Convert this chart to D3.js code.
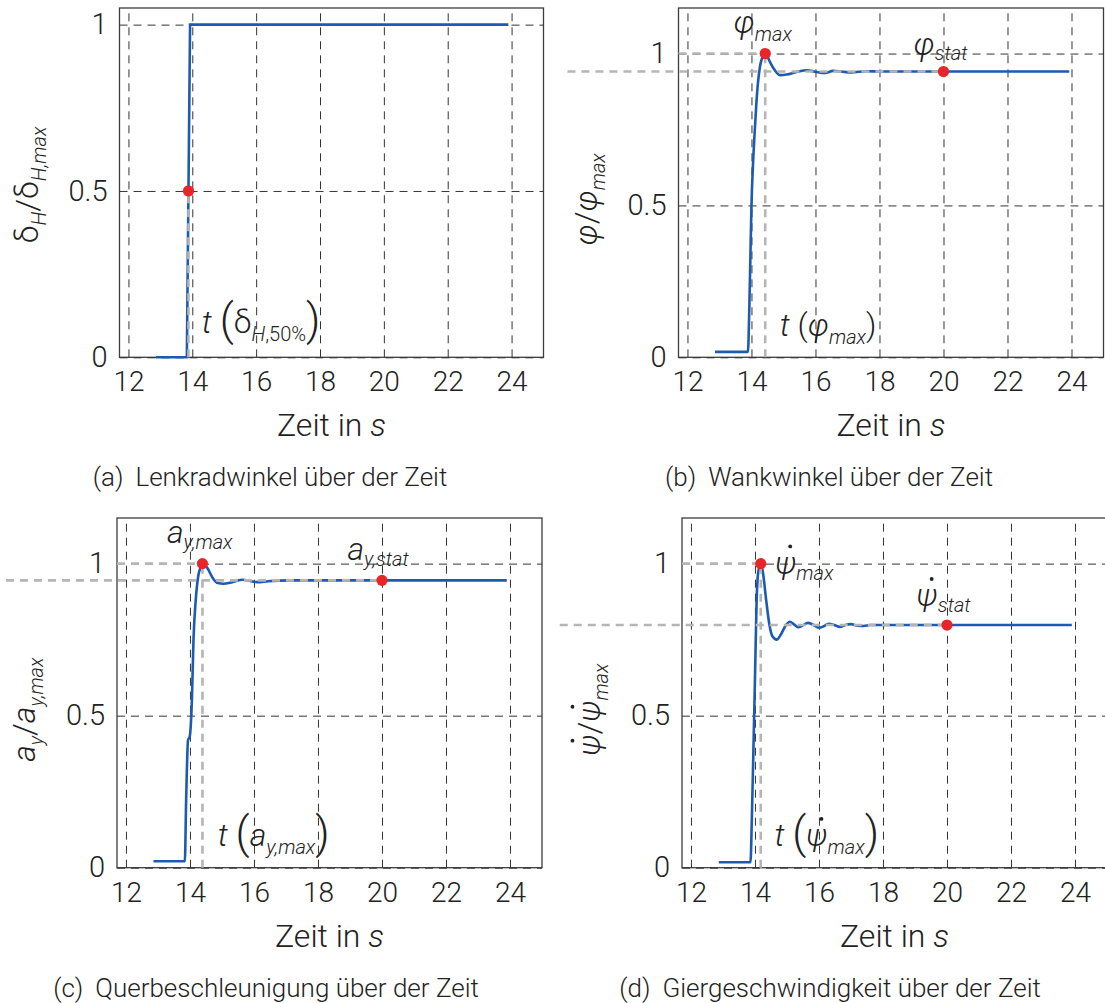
<!DOCTYPE html>
<html>
<head>
<meta charset="utf-8">
<script src="https://cdn.jsdelivr.net/npm/d3@7"></script>
<style>
  body { margin: 0; background: #fff; }
  svg text { font-family: Roboto, "Noto Sans", sans-serif; font-weight: 300; fill: #222; }
</style>
</head>
<body>
<svg id="chart" width="1105" height="1003"></svg>
<script>
// shared ticks
const xTicks = [12, 14, 16, 18, 20, 22, 24];
const yTicks = [0, 0.5, 1];
const yTickLabels = ['0', '0.5', '1'];

// (a) Lenkradwinkel
const timeA = [12.86, 13.83, 13.93, 23.9];
const valA = [0, 0, 1, 1];
const markA = [[13.88, 0.5]];

// (b) Wankwinkel
const timeB = [12.86, 13.89, 13.93, 13.97, 14.0, 14.05, 14.1, 14.15, 14.2, 14.27, 14.35, 14.43, 14.5, 14.58, 14.73, 14.9, 15.1, 15.4, 15.73, 16.0, 16.3, 16.55, 16.8, 17.1, 17.6, 18.0, 20.0, 23.93];
const valB = [0.018, 0.018, 0.15, 0.35, 0.5, 0.64, 0.74, 0.83, 0.9, 0.96, 0.99, 1.0, 0.99, 0.972, 0.945, 0.929, 0.931, 0.939, 0.945, 0.94, 0.936, 0.943, 0.941, 0.938, 0.942, 0.941, 0.941, 0.941];
const markB = [[14.43, 1.0], [20, 0.941]];

// (c) Querbeschleunigung
const timeC = [12.86, 13.84, 13.88, 13.94, 13.99, 14.06, 14.11, 14.18, 14.26, 14.34, 14.39, 14.54, 14.71, 14.87, 15.04, 15.32, 15.65, 15.88, 16.1, 16.44, 16.77, 17.2, 20.0, 23.9];
const valC = [0.021, 0.021, 0.22, 0.42, 0.43, 0.55, 0.75, 0.88, 0.96, 0.99, 1.0, 0.986, 0.953, 0.936, 0.934, 0.939, 0.947, 0.943, 0.939, 0.942, 0.944, 0.945, 0.945, 0.945];
const markC = [[14.39, 1.0], [20, 0.945]];

// (d) Giergeschwindigkeit
const timeD = [12.87, 13.86, 13.9, 13.95, 14.0, 14.05, 14.1, 14.18, 14.25, 14.35, 14.45, 14.55, 14.68, 14.8, 14.95, 15.09, 15.22, 15.35, 15.5, 15.65, 15.8, 16.0, 16.15, 16.3, 16.5, 16.65, 16.85, 17.0, 17.2, 17.4, 17.6, 18.0, 20.0, 23.9];
const valD = [0.018, 0.018, 0.15, 0.38, 0.62, 0.87, 0.97, 1.0, 0.97, 0.88, 0.8, 0.76, 0.75, 0.765, 0.795, 0.809, 0.8, 0.791, 0.797, 0.805, 0.8, 0.789, 0.794, 0.802, 0.797, 0.792, 0.799, 0.801, 0.796, 0.795, 0.798, 0.798, 0.798, 0.798];
const markD = [[14.18, 1.0], [20, 0.798]];

// where the grey steady-state line starts (left of the box)
const statStart = { b: 8.25, c: 8.25, d: 7.9 };

const svg = d3.select('#chart');
const blue = '#1c5bb3';
const red = '#e8262a';
const grey = '#b5b5b5';

// text made of several pieces (subscripts, italics, big parens, dotted psi)
function richText(g, x, y, parts, anchor) {
    const grp = g.append('g');
    const t = grp.append('text').attr('x', x).attr('y', y).attr('text-anchor', anchor || 'start');
    let off = 0, idx = 0;
    const dots = [];
    parts.forEach(p => {
        const o = p.off || 0;
        t.append('tspan')
            .attr('dy', o - off)
            .attr('font-size', p.size || 32)
            .attr('font-style', p.i ? 'italic' : 'normal')
            .attr('dx', p.dx || 0)
            .text(p.s);
        if (p.dot) dots.push({ idx: idx, off: o, size: p.size || 32 });
        idx += p.s.length;
        off = o;
    });
    // dot above psi (time derivative)
    dots.forEach(d => {
        const r = t.node().getExtentOfChar(d.idx);
        grp.append('circle')
            .attr('cx', r.x + r.width / 2 + d.size * 0.14)
            .attr('cy', y + d.off - d.size * 0.86)
            .attr('r', d.size * 0.06)
            .attr('fill', '#222');
    });
    return grp;
}

const panels = [
    { key: 'a', left: 119.5, top: 8, w: 424, h: 349.3, yMax: 1.05, time: timeA, val: valA, marks: markA,
      ylabel: [{ s: 'δ' }, { s: 'H', size: 20, i: 1, off: 8 }, { s: '/' }, { s: 'δ' }, { s: 'H,max', size: 20, i: 1, off: 8 }],
      tag: '(a)', caption: 'Lenkradwinkel über der Zeit', capX: 270,
      notes: [
        { t: 14.3, v: 0.073, parts: [{ s: 't', i: 1 }, { s: ' ' }, { s: '(', size: 44, off: 2 }, { s: 'δ' }, { s: 'H', size: 20, i: 1, off: 8 }, { s: ',50%', size: 20, off: 8 }, { s: ')', size: 44, off: 2 }] }
      ] },
    { key: 'b', left: 678.5, top: 8, w: 425, h: 349.3, yMax: 1.15, time: timeB, val: valB, marks: markB,
      ylabel: [{ s: 'φ', i: 1 }, { s: '/' }, { s: 'φ', i: 1 }, { s: 'max', size: 20, i: 1, off: 8 }],
      tag: '(b)', caption: 'Wankwinkel über der Zeit', capX: 829,
      notes: [
        { t: 13.44, v: 1.067, parts: [{ s: 'φ', i: 1 }, { s: 'max', size: 20, i: 1, off: 8 }] },
        { t: 19.06, v: 0.994, parts: [{ s: 'φ', i: 1 }, { s: 'stat', size: 20, i: 1, off: 5 }] },
        { t: 14.88, v: 0.069, parts: [{ s: 't', i: 1 }, { s: ' (' }, { s: 'φ', i: 1 }, { s: 'max', size: 20, i: 1, off: 8 }, { s: ')' }] }
      ] },
    { key: 'c', left: 117, top: 518, w: 425, h: 349.7, yMax: 1.15, time: timeC, val: valC, marks: markC,
      ylabel: [{ s: 'a', i: 1 }, { s: 'y', size: 20, i: 1, off: 8 }, { s: '/' }, { s: 'a', i: 1 }, { s: 'y,max', size: 20, i: 1, off: 8 }],
      tag: '(c)', caption: 'Querbeschleunigung über der Zeit', capX: 266,
      notes: [
        { t: 13.28, v: 1.068, parts: [{ s: 'a', i: 1 }, { s: 'y,max', size: 20, i: 1, off: 6 }] },
        { t: 18.92, v: 1.013, parts: [{ s: 'a', i: 1 }, { s: 'y,stat', size: 20, i: 1, off: 6 }] },
        { t: 14.87, v: 0.07, parts: [{ s: 't', i: 1 }, { s: ' ' }, { s: '(', size: 44, off: 2 }, { s: 'a', i: 1 }, { s: 'y,max', size: 20, i: 1, off: 8 }, { s: ')', size: 44, off: 2 }] }
      ] },
    { key: 'd', left: 682, top: 518, w: 425, h: 349.7, yMax: 1.15, time: timeD, val: valD, marks: markD,
      ylabel: [{ s: 'ψ', i: 1, dot: 1 }, { s: '/' }, { s: 'ψ', i: 1, dot: 1 }, { s: 'max', size: 20, i: 1, off: 8 }],
      tag: '(d)', caption: 'Giergeschwindigkeit über der Zeit', capX: 830,
      notes: [
        { t: 14.63, v: 0.966, parts: [{ s: 'ψ', i: 1, dot: 1 }, { s: 'max', size: 20, i: 1, off: 6 }] },
        { t: 19.05, v: 0.859, parts: [{ s: 'ψ', i: 1, dot: 1 }, { s: 'stat', size: 20, i: 1, off: 6 }] },
        { t: 14.61, v: 0.07, parts: [{ s: 't', i: 1 }, { s: ' ' }, { s: '(', size: 44, off: 2 }, { s: 'ψ', i: 1, dot: 1 }, { s: 'max', size: 20, i: 1, off: 8 }, { s: ')', size: 44, off: 2 }] }
      ] }
];

panels.forEach(p => {
    const x = d3.scaleLinear().domain([11.72, 25]).range([p.left, p.left + p.w]);
    const y = d3.scaleLinear().domain([0, p.yMax]).range([p.top + p.h, p.top]);
    const g = svg.append('g');

    // box
    g.append('rect')
        .attr('x', p.left).attr('y', p.top).attr('width', p.w).attr('height', p.h)
        .attr('fill', 'none').attr('stroke', '#3c3c3c').attr('stroke-width', 1.3);

    // x axis with dashed grid
    const xa = g.append('g')
        .attr('transform', `translate(0, ${p.top + p.h})`)
        .call(d3.axisBottom(x).tickValues(xTicks).tickSizeInner(-p.h).tickSizeOuter(0).tickPadding(14));
    xa.select('.domain').remove();
    xa.selectAll('line').attr('stroke', '#333').attr('stroke-dasharray', '8,6');
    xa.selectAll('text').attr('font-size', 28).attr('font-family', null).attr('fill', '#222');

    // y axis with dashed grid
    const ya = g.append('g')
        .attr('transform', `translate(${p.left}, 0)`)
        .call(d3.axisLeft(y).tickValues(yTicks).tickFormat((d, i) => yTickLabels[i]).tickSizeInner(-p.w).tickSizeOuter(0).tickPadding(12));
    ya.select('.domain').remove();
    ya.selectAll('line').attr('stroke', '#333').attr('stroke-dasharray', '8,6');
    ya.selectAll('text').attr('font-size', 29).attr('font-family', null).attr('fill', '#222');

    // curve
    const pts = p.time.map((t, i) => [t, p.val[i]]);
    g.append('path')
        .datum(pts)
        .attr('d', d3.line().x(d => x(d[0])).y(d => y(d[1])).curve(p.key === 'a' ? d3.curveLinear : d3.curveMonotoneX))
        .attr('fill', 'none').attr('stroke', blue).attr('stroke-width', 2.6);

    // grey reference lines
    const ref = g.append('g').attr('stroke', grey).attr('stroke-width', 2.6).attr('stroke-dasharray', '8,6').attr('fill', 'none');
    const peak = p.marks[0];
    ref.append('line').attr('x1', x(peak[0])).attr('x2', x(peak[0])).attr('y1', y(0)).attr('y2', y(peak[1]));
    if (p.marks.length > 1) {
        const stat = p.marks[1];
        ref.append('line').attr('x1', p.left).attr('x2', x(peak[0])).attr('y1', y(peak[1])).attr('y2', y(peak[1]));
        ref.append('line').attr('x1', x(statStart[p.key])).attr('x2', x(stat[0])).attr('y1', y(stat[1])).attr('y2', y(stat[1]));
    }

    // red markers
    g.selectAll('circle.mk')
        .data(p.marks)
        .enter()
        .append('circle')
        .attr('class', 'mk')
        .attr('cx', d => x(d[0]))
        .attr('cy', d => y(d[1]))
        .attr('r', 5.6)
        .attr('fill', red);

    // annotations
    p.notes.forEach(n => richText(g, x(n.t), y(n.v), n.parts));

    // axis titles
    const xt = g.append('text')
        .attr('x', p.left + p.w / 2).attr('y', p.top + p.h + 79)
        .attr('text-anchor', 'middle').attr('font-size', 32);
    xt.append('tspan').text('Zeit in ');
    xt.append('tspan').attr('font-style', 'italic').text('s');

    richText(g, 0, 0, p.ylabel, 'middle')
        .attr('transform', `translate(${p.left - 82}, ${y(0.5) - 6}) rotate(-90)`);

    // caption
    const cap = g.append('text')
        .attr('x', p.capX).attr('y', p.top + p.h + 129)
        .attr('text-anchor', 'middle').attr('font-size', 26);
    cap.append('tspan').text(p.tag);
    cap.append('tspan').attr('dx', 12).text(p.caption);
});
</script>
</body>
</html>
